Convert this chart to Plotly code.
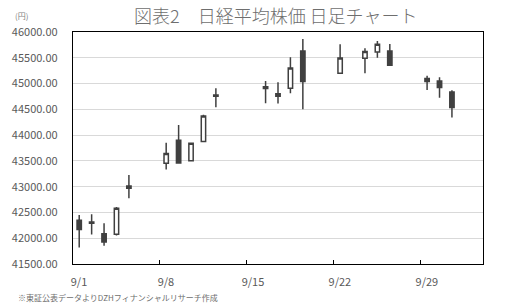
import plotly.graph_objects as go

dates = ["2025-09-01", "2025-09-02", "2025-09-03", "2025-09-04", "2025-09-05",
         "2025-09-08", "2025-09-09", "2025-09-10", "2025-09-11", "2025-09-12",
         "2025-09-16", "2025-09-17", "2025-09-18", "2025-09-19",
         "2025-09-22", "2025-09-24", "2025-09-25", "2025-09-26",
         "2025-09-29", "2025-09-30", "2025-10-01"]
opens = [42350, 42290, 42085, 42075, 42970,
         43455, 43900, 43505, 43875, 44755,
         44940, 44755, 44910, 45630,
         45200, 45490, 45610, 45630,
         45100, 45050, 44835]
highs = [42450, 42465, 42290, 42605, 43225,
         43850, 44195, 43840, 44395, 44910,
         45050, 45025, 45510, 45865,
         45760, 45685, 45825, 45765,
         45150, 45120, 44870]
lows = [41820, 42070, 41855, 42055, 42775,
        43335, 43455, 43505, 43860, 44540,
        44620, 44615, 44810, 44500,
        45200, 45200, 45500, 45355,
        44875, 44725, 44340]
closes = [42170, 42315, 41925, 42580, 43015,
          43645, 43460, 43840, 44370, 44780,
          44905, 44800, 45300, 45040,
          45495, 45620, 45760, 45355,
          45040, 44925, 44535]

tick_pos = ["2025-08-31 12:00", "2025-09-07 12:00", "2025-09-14 12:00",
            "2025-09-21 12:00", "2025-09-28 12:00"]
tick_text = ["9/1", "9/8", "9/15", "9/22", "9/29"]

title_text = "図表2　日経平均株価 日足チャート"
unit_text = "(円)"
note_text = "※東証公表データよりDZHフィナンシャルリサーチ作成"

dark = "#404040"
gray = "#595959"
font_family = "Noto Sans CJK JP, Noto Sans, sans-serif"

fig = go.Figure(go.Candlestick(
    x=dates, open=opens, high=highs, low=lows, close=closes,
    increasing=dict(line=dict(color=dark, width=1.5), fillcolor="#ffffff"),
    decreasing=dict(line=dict(color=dark, width=1.5), fillcolor=dark),
    whiskerwidth=0,
    hoverinfo="skip",
))

fig.update_layout(
    width=516, height=306,
    margin=dict(l=71, r=33, t=32, b=42),
    paper_bgcolor="#ffffff", plot_bgcolor="#ffffff",
    showlegend=False,
    boxgap=0.5,
    font=dict(family=font_family, color=gray, size=11),
    annotations=[
        dict(text=title_text, xref="paper", yref="paper", x=0.495, y=1,
             yshift=17, xanchor="center", yanchor="middle", showarrow=False,
             font=dict(size=18, color="#6e6e6e", family=font_family, weight=300)),
        dict(text=unit_text, xref="paper", yref="paper", x=-0.125, y=1,
             yshift=17, xanchor="center", yanchor="middle", showarrow=False,
             font=dict(size=8, color="#808080", family=font_family)),
        dict(text=note_text, xref="paper", yref="paper", x=-0.14, y=0,
             yshift=-33, xanchor="left", yanchor="middle", showarrow=False,
             font=dict(size=8, color="#6e6e6e", family=font_family)),
    ],
)

fig.update_xaxes(
    type="date",
    range=["2025-08-31 12:00", "2025-10-03 12:00"],
    rangeslider=dict(visible=False),
    tickmode="array", tickvals=tick_pos, ticktext=tick_text,
    ticks="inside", ticklen=4, tickcolor="#000000", tickwidth=1,
    ticklabelshift=6, ticklabelstandoff=8,
    showgrid=False, zeroline=False,
    showline=True, linecolor="#000000", linewidth=1.3, mirror=True,
    tickfont=dict(size=11, color=gray),
)
fig.update_yaxes(
    range=[41500, 46000], dtick=500, tick0=41500, tickformat=".2f",
    showgrid=True, gridcolor="#d9d9d9", gridwidth=1,
    zeroline=False, ticks="",
    showline=True, linecolor="#000000", linewidth=1.3, mirror=True,
    ticklabelstandoff=12,
    tickfont=dict(size=11, color=gray),
)

fig.write_html("out.html")
